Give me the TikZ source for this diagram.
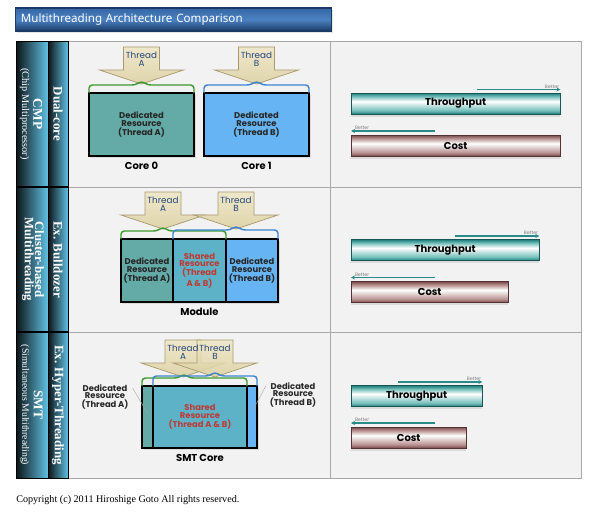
\documentclass[tikz,border=0pt]{standalone}
\usepackage{fontspec}
\setmainfont{Liberation Serif}
\newfontfamily\gothic{Poppins}
\newfontfamily\titlefont{Noto Sans}
\usetikzlibrary{arrows.meta,shadows}

\definecolor{panelgray}{HTML}{F2F2F2}
\definecolor{panelline}{HTML}{A8A8A8}
\definecolor{resA}{HTML}{64AAA6}
\definecolor{resB}{HTML}{66B4F4}
\definecolor{resS}{HTML}{5EB2C8}
\definecolor{braceA}{HTML}{3C9A2C}
\definecolor{braceB}{HTML}{3C84D2}
\definecolor{sharedred}{HTML}{BE3A32}
\definecolor{threadtxt}{HTML}{24467C}
\definecolor{threadtop}{HTML}{EEE6C4}
\definecolor{threadbot}{HTML}{DCD0A0}
\definecolor{threadedge}{HTML}{A89A6E}
\definecolor{tpdark}{HTML}{1E7C7A}
\definecolor{tpmid}{HTML}{72BEBA}
\definecolor{costdark}{HTML}{7A4848}
\definecolor{costmid}{HTML}{B89090}
\definecolor{betterarr}{HTML}{2A8A88}
\definecolor{navy}{HTML}{1B3A66}
\definecolor{titlemid}{HTML}{4C82C2}
\definecolor{titletop}{HTML}{3566A4}
\definecolor{coldark}{HTML}{0C1418}
\definecolor{collight}{HTML}{62C2E4}

\pgfdeclareverticalshading{tpshade}{100bp}{color(0bp)=(tpdark); color(25bp)=(tpdark);
  color(33bp)=(tpmid); color(55bp)=(white); color(67bp)=(tpmid); color(75bp)=(tpdark);
  color(100bp)=(tpdark)}
\pgfdeclareverticalshading{costshade}{100bp}{color(0bp)=(costdark); color(25bp)=(costdark);
  color(33bp)=(costmid); color(55bp)=(white); color(67bp)=(costmid); color(75bp)=(costdark);
  color(100bp)=(costdark)}
\pgfdeclareverticalshading{titleshade}{100bp}{color(0bp)=(navy); color(25bp)=(navy);
  color(50bp)=(titlemid); color(75bp)=(titletop); color(100bp)=(titletop)}

\begin{document}
\begin{tikzpicture}[x=0.75pt, y=-0.75pt, >=Stealth,
  res/.style={draw=black, line width=0.9pt, inner sep=0pt, align=center,
    minimum height=47.25pt, font=\gothic\bfseries\fontsize{6.3}{5.7}\selectfont,
    text=black!85, drop shadow={opacity=0.2, shadow xshift=1.5pt, shadow yshift=-1.5pt}},
  dedtxt/.style={align=center, inner sep=1pt, text=black!85,
    font=\gothic\bfseries\fontsize{6.3}{5.7}\selectfont},
  corelbl/.style={font=\gothic\bfseries\fontsize{7.5}{8}\selectfont, inner sep=1pt},
  threadshape/.style={draw=threadedge, line width=0.5pt, top color=threadtop,
    bottom color=threadbot, fill opacity=0.85},
  threadlbl/.style={align=center, inner sep=0pt, text=threadtxt,
    font=\gothic\fontsize{6.6}{5.8}\selectfont},
  brA/.style={draw=braceA, line width=1.1pt, rounded corners=2.5pt},
  brB/.style={draw=braceB, line width=1.1pt, rounded corners=2.5pt},
  leader/.style={draw=gray!70, line width=0.3pt},
  tpbar/.style={anchor=west, shade, shading=tpshade, draw=tpdark!70!black,
    line width=0.3pt, minimum height=15.75pt, inner sep=0pt,
    font=\gothic\bfseries\fontsize{7.5}{8}\selectfont,
    drop shadow={opacity=0.2, shadow xshift=0pt, shadow yshift=-2pt}},
  costbar/.style={tpbar, shading=costshade, draw=costdark!70!black},
  better/.style={draw=betterarr, line width=0.9pt, -{Stealth[length=3pt, width=3pt]}},
  bettertxt/.style={font=\gothic\fontsize{3.6}{4}\selectfont, text=gray, inner sep=0.8pt},
  collbl/.style={rotate=-90, align=center, text=white, inner sep=0pt},
  titlebar/.style={anchor=west, shade, shading=titleshade, draw=navy, line width=0.8pt,
    minimum height=17.25pt, text width=229pt, inner xsep=4pt, align=left, text=white,
    font=\titlefont\fontsize{8.7}{9}\selectfont,
    drop shadow={opacity=0.2, shadow xshift=1pt, shadow yshift=-1.5pt}},
  pics/thread/.style={code={
    \draw[threadshape] (-18,0) -- (18,0) -- (18,23) -- (42,23) -- (0,37)
      -- (-42,23) -- (-18,23) -- cycle;
  }}]

\useasboundingbox[fill=white] (0,0) rectangle (600,514);

% panel and rows
\fill[panelgray] (68,41) rectangle (581,478);
\draw[panelline, line width=0.6pt] (68,41) rectangle (581,478);
\draw[panelline, line width=0.6pt] (330,41) -- (330,478);
\draw[panelline, line width=0.6pt] (68,187) -- (581,187);
\draw[panelline, line width=0.6pt] (68,332) -- (581,332);

% label columns
\shade[left color=coldark, right color=collight] (16,41) rectangle (48,478);
\shade[left color=coldark, right color=collight] (48,41) rectangle (68,478);
\draw[black, line width=0.6pt] (16,41) rectangle (68,478);
\draw[black, line width=0.6pt] (48,41) -- (48,478);
\draw[black, line width=0.8pt] (16,187) -- (68,187);
\draw[black, line width=0.8pt] (16,332) -- (68,332);

\node[collbl, font=\fontsize{7.7}{8.5}\selectfont] (cmp) at (31,114)
  {{\bfseries\fontsize{10}{8.5}\selectfont CMP}\\(Chip Multiprocessor)};
\node[collbl, font=\bfseries\fontsize{9.6}{7.8}\selectfont] (cbm) at (33,259.5)
  {Cluster-based\\Multithreading};
\node[collbl, font=\fontsize{7.3}{8.5}\selectfont] (smt) at (31.5,405)
  {{\bfseries\fontsize{10}{8.5}\selectfont SMT}\\(Simultaneous Multithreading)};
\node[collbl, font=\bfseries\fontsize{9.7}{10}\selectfont] (ex1) at (58,114) {Dual-core};
\node[collbl, font=\bfseries\fontsize{9.7}{10}\selectfont] (ex2) at (58,259.5) {Ex. Bulldozer};
\node[collbl, font=\bfseries\fontsize{9.7}{10}\selectfont] (ex3) at (58,405) {Ex. Hyper-Threading};

\node[titlebar] (title) at (15,19.5) {Multithreading Architecture Comparison};

% Dual-core
\pic at (141.5,47) {thread};
\pic at (256.5,47) {thread};
\node[threadlbl] (thA1) at (141.5,59) {Thread\\A};
\node[threadlbl] (thB1) at (256.5,59) {Thread\\B};
\node[res, fill=resA, minimum width=78.75pt] (c0) at (141.5,124.5) {Dedicated\\Resource\\(Thread A)};
\node[res, fill=resB, minimum width=78.75pt] (c1) at (256.5,124.5) {Dedicated\\Resource\\(Thread B)};
\draw[brA] (89,93) -- (89,85) -- (135.5,85) -- (141.5,81) -- (147.5,85) -- (194,85) -- (194,93);
\draw[brB] (204,93) -- (204,85) -- (250.5,85) -- (256.5,81) -- (262.5,85) -- (309,85) -- (309,93);
\node[corelbl] (c0l) at (141.5,166) {Core 0};
\node[corelbl] (c1l) at (256.5,166) {Core 1};

% Bulldozer
\pic at (163,192) {thread};
\pic at (236,192) {thread};
\node[threadlbl] (thA2) at (163,204) {Thread\\A};
\node[threadlbl] (thB2) at (236,204) {Thread\\B};
\node[res, fill=resA, minimum width=39pt] (m1) at (147,270.5) {Dedicated\\Resource\\(Thread A)};
\node[res, fill=resS, minimum width=39.75pt, text=sharedred] (m2) at (199.5,270.5)
  {Shared\\Resource\\(Thread\\A \& B)};
\node[res, fill=resB, minimum width=39pt] (m3) at (252,270.5) {Dedicated\\Resource\\(Thread B)};
\draw[brA] (121,239) -- (121,231) -- (157,231) -- (163,227) -- (169,231) -- (226,231) -- (226,239);
\draw[brB] (173,239) -- (173,230) -- (230,230) -- (236,226) -- (242,230) -- (278,230) -- (278,239);
\node[corelbl] (mod) at (199.5,312) {Module};

% Hyper-Threading
\pic at (183,340) {thread};
\pic at (215,340) {thread};
\node[threadlbl] (thA3) at (183,352) {Thread\\A};
\node[threadlbl] (thB3) at (215,352) {Thread\\B};
\node[res, fill=resA, minimum width=8.25pt, minimum height=46.5pt] (sA) at (147.5,417) {};
\node[res, fill=resS, minimum width=70.5pt, minimum height=46.5pt, text=sharedred] (sS) at (200,417)
  {Shared\\Resource\\(Thread A \& B)};
\node[res, fill=resB, minimum width=7.5pt, minimum height=46.5pt] (sB) at (252,417) {};
\draw[brA] (142,386) -- (142,378) -- (178,378) -- (184,374) -- (190,378) -- (247,378) -- (247,386);
\draw[brB] (153,386) -- (153,376) -- (209,376) -- (215,372) -- (221,376) -- (257,376) -- (257,386);
\node[dedtxt] (dlA) at (105,397) {Dedicated\\Resource\\(Thread A)};
\node[dedtxt] (dlB) at (293,395) {Dedicated\\Resource\\(Thread B)};
\draw[leader] ([xshift=2pt, yshift=-4pt]dlA.north east) -- ([yshift=3pt]sA.center);
\draw[leader] ([xshift=-2pt, yshift=-4pt]dlB.north west) -- ([yshift=4pt]sB.center);
\node[corelbl] (smtc) at (200,458) {SMT Core};

% throughput and cost
\foreach \r/\ty/\tw/\cy/\cw/\bx in {1/103.5/156.75/145.5/156.75/477,
    2/250/141/292/117.75/455, 3/396/98.25/437.5/86.25/398} {
  \node[tpbar, minimum width=\tw pt] (tp\r) at (351,\ty) {Throughput};
  \node[costbar, minimum width=\cw pt] (cost\r) at (351,\cy) {Cost};
  \coordinate (bt\r) at (\bx,\ty-14);
  \draw[better] (bt\r) -- (bt\r -| tp\r.east);
  \node[bettertxt, anchor=south east] (lbt\r) at (tp\r.east |- bt\r) {Better};
  \coordinate (bc\r) at (435,\cy-14.5);
  \draw[better] (bc\r) -- (bc\r -| cost\r.west);
  \node[bettertxt, anchor=south west] (lbc\r) at ([xshift=2pt]cost\r.west |- bc\r) {Better};
}

\node[anchor=west, inner sep=0pt, font=\fontsize{7.6}{9}\selectfont] (copy) at (16,500)
  {Copyright (c) 2011 Hiroshige Goto All rights reserved.};
\end{tikzpicture}
\end{document}
